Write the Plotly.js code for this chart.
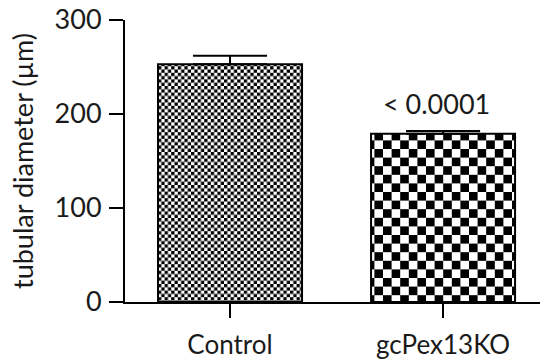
<!DOCTYPE html>
<html>
<head>
<meta charset="utf-8">
<script src="https://cdn.plot.ly/plotly-3.0.1.min.js"></script>
<style>html,body{margin:0;padding:0;background:#fff;}#chart{width:545px;height:362px;}</style>
</head>
<body>
<div id="chart"></div>
<script>
// Data
const categories = ['Control', 'gcPex13KO'];
const meanDiameter = [253, 179];
const semDiameter = [9, 3];
const pValueLabel = '< 0.0001';
const yTickValues = [0, 100, 200, 300];
const yAxisTitle = 'tubular diameter (µm)';

// checker square size (px) per bar
const checkerSize = [3.3, 8.6];

const FONT = 'Lato, "Open Sans", sans-serif';
const INK = '#1a1a1a';

const trace = {
  type: 'bar',
  x: categories,
  y: meanDiameter,
  width: 0.676,
  marker: {
    color: 'white',
    line: {color: '#000', width: 2},
    pattern: {shape: '.', size: checkerSize.map(s => 2 * s), solidity: 0.3, bgcolor: 'white', fgcolor: 'black', fillmode: 'replace'}
  },
  error_y: {type: 'data', symmetric: false, array: semDiameter, arrayminus: [0, 0], color: '#000', thickness: 2, width: 37},
  hoverinfo: 'none'
};

const layout = {
  width: 545, height: 362,
  margin: {l: 125, r: 5, t: 20, b: 60},
  paper_bgcolor: 'white', plot_bgcolor: 'white',
  showlegend: false,
  font: {family: FONT, color: INK, size: 26},
  xaxis: {
    type: 'category',
    range: [-0.493, 1.455],
    showline: true, linecolor: '#000', linewidth: 2,
    ticks: 'outside', ticklen: 14, tickwidth: 2, tickcolor: '#000',
    tickfont: {family: FONT, size: 26, color: INK},
    ticklabelstandoff: 5,
    showgrid: false, zeroline: false, fixedrange: true
  },
  yaxis: {
    range: [0, 300],
    tickvals: yTickValues,
    showline: true, linecolor: '#000', linewidth: 2,
    ticks: 'outside', ticklen: 14, tickwidth: 2, tickcolor: '#000',
    tickfont: {family: FONT, size: 27, color: INK},
    ticklabelstandoff: 2,
    showgrid: false, zeroline: false, fixedrange: true,
    title: {text: yAxisTitle, font: {family: FONT, size: 27, color: INK}, standoff: 13}
  },
  annotations: [{
    x: categories[1], y: meanDiameter[1] + semDiameter[1],
    xref: 'x', yref: 'y', xshift: -7, yshift: 9,
    yanchor: 'bottom', text: pValueLabel, showarrow: false,
    font: {family: FONT, size: 27, color: INK}
  }]
};

Plotly.newPlot('chart', [trace], layout, {displayModeBar: false, staticPlot: true}).then(gd => {
  const paths = gd.querySelectorAll('.trace.bars .point path');
  paths.forEach((p, i) => {
    const fill = p.style.fill || p.getAttribute('fill') || '';
    const m = fill.match(/url\(["']?#([^"')]+)/);
    if (!m) return;
    const pat = document.getElementById(m[1]);
    if (!pat) return;
    const s = checkerSize[i];
    const ns = 'http://www.w3.org/2000/svg';
    while (pat.firstChild) pat.removeChild(pat.firstChild);
    pat.setAttribute('width', 2 * s);
    pat.setAttribute('height', 2 * s);
    const mk = (x, y, w, h, c) => {
      const r = document.createElementNS(ns, 'rect');
      r.setAttribute('x', x); r.setAttribute('y', y);
      r.setAttribute('width', w); r.setAttribute('height', h);
      r.setAttribute('fill', c);
      pat.appendChild(r);
    };
    mk(0, 0, 2 * s, 2 * s, '#fff');
    mk(0, 0, s, s, '#000');
    mk(s, s, s, s, '#000');
  });
});
</script>
</body>
</html>
